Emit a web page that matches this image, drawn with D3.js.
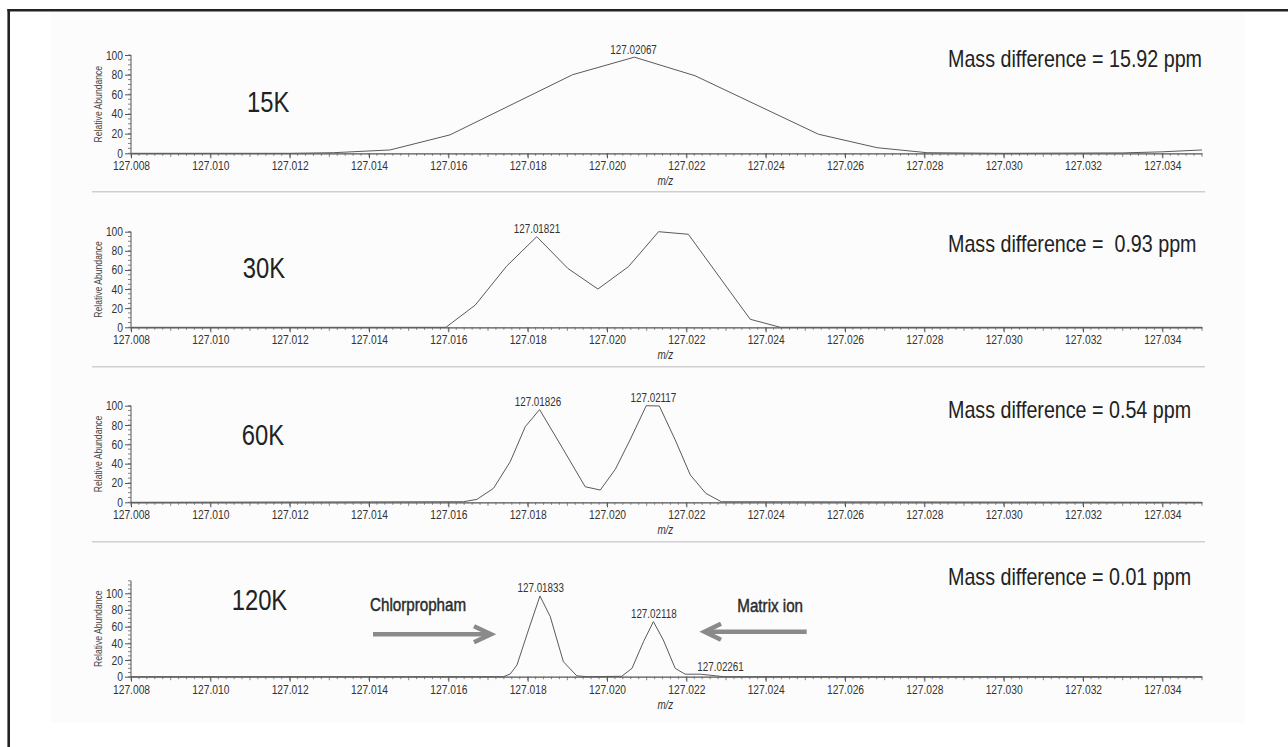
<!DOCTYPE html>
<html>
<head>
<meta charset="utf-8">
<script src="https://cdn.jsdelivr.net/npm/d3@7"></script>
<style>
  html, body { margin: 0; padding: 0; background: #ffffff; }
  svg { display: block; }
  text { font-family: "Liberation Sans", Arial, sans-serif; }
</style>
</head>
<body>
<svg id="chart" width="1288" height="747"></svg>
<script>
// ---------------- DATA ----------------
const xTicks = [127.008, 127.010, 127.012, 127.014, 127.016, 127.018, 127.020,
                127.022, 127.024, 127.026, 127.028, 127.030, 127.032, 127.034];
const yTicks = [0, 20, 40, 60, 80, 100];
const resolutions = ["15K", "30K", "60K", "120K"];
const massDifferences = [
  "Mass difference = 15.92 ppm",
  "Mass difference =  0.93 ppm",
  "Mass difference = 0.54 ppm",
  "Mass difference = 0.01 ppm"
];

// 15K profile
const mz15K = [127.0080, 127.0120, 127.0131, 127.01453, 127.01604, 127.01913, 127.02069,
               127.02222, 127.02533, 127.02681, 127.02807, 127.0300, 127.0330, 127.0340, 127.0350];
const ab15K = [0, 0, 0.6, 3.4, 18.7, 79.9, 97.8, 78.9, 19.4, 5.7, 0.6, 0, 0.4, 1.5, 3.4];
const peaks15K = ["127.02067"];

// 30K profile
const mz30K = [127.0080, 127.01594, 127.01668, 127.01747, 127.01823, 127.01901, 127.01977,
               127.02054, 127.02130, 127.02205, 127.02361, 127.02437, 127.0350];
const ab30K = [0, 0, 23.3, 64, 94.8, 61.7, 40, 63.4, 100, 97.3, 8.4, 0, 0];
const peaks30K = ["127.01821", "127.02164"];

// 60K profile
const mz60K = [127.0080, 127.01638, 127.01672, 127.01714, 127.01756, 127.01794, 127.01830,
               127.01888, 127.01945, 127.01983, 127.02021, 127.02058, 127.02099, 127.02132,
               127.02172, 127.02210, 127.02249, 127.02288, 127.0350];
const ab60K = [0, 0.6, 3, 14.5, 42, 78.3, 96, 56, 16.1, 12.7, 34.2, 64.5, 100, 99.7,
               64.5, 28.3, 9.3, 0.6, 0];
const peaks60K = ["127.01826", "127.02117"];

// 120K profile
const mz120K = [127.0080, 127.01739, 127.01756, 127.01773, 127.01802, 127.01831, 127.01857,
                127.01890, 127.01924, 127.01950, 127.02037, 127.02063, 127.02092, 127.02117,
                127.02142, 127.02172, 127.02197, 127.02235, 127.02262, 127.02294, 127.0350];
const ab120K = [0, 0, 3.2, 14, 56, 96.8, 72, 18, 1, 0, 0.5, 10, 42, 66, 44, 10, 3, 3, 1.7, 0, 0];
const peaks120K = ["127.01833", "127.02118", "127.02261"];

const annotations = ["Chlorpropham", "Matrix ion"];

// ---------------- LAYOUT ----------------
const svg = d3.select("#chart");
const panels = [
  { mz: mz15K,  ab: ab15K,  peaks: peaks15K,  y0: 153.3, y100: 55.0,  yMax: 100, label: [247, 111.7], md: 66.7,  nudge: [0] },
  { mz: mz30K,  ab: ab30K,  peaks: peaks30K,  y0: 327.3, y100: 231.7, yMax: 100, label: [242.7, 278.3], md: 251.5, nudge: [1, 1] },
  { mz: mz60K,  ab: ab60K,  peaks: peaks60K,  y0: 502.3, y100: 405.7, yMax: 100, label: [241.7, 445], md: 418, nudge: [0, 0] },
  { mz: mz120K, ab: ab120K, peaks: peaks120K, y0: 676.7, y100: 593.3, yMax: 115, label: [231.7, 610], md: 585, nudge: [0, 0, 10] }
];

// faint background panel and frame
svg.append("rect").attr("x", 50).attr("y", 12).attr("width", 1195).attr("height", 711)
  .attr("fill", "#fcfcfc");
svg.append("line").attr("x1", 8.7).attr("x2", 8.7).attr("y1", 9).attr("y2", 747)
  .attr("stroke", "#222").attr("stroke-width", 2.6);
svg.append("line").attr("x1", 7.4).attr("x2", 1288).attr("y1", 10.3).attr("y2", 10.3)
  .attr("stroke", "#222").attr("stroke-width", 2.6);

// separators
[191.8, 366.7, 541.7].forEach(y => {
  svg.append("line").attr("x1", 92).attr("x2", 1205).attr("y1", y).attr("y2", y)
    .attr("stroke", "#cfcfcf").attr("stroke-width", 1.6);
});

const x = d3.scaleLinear().domain([127.008, 127.035]).range([131, 1202]);
const minorX = d3.range(0, 136).map(i => 127.008 + i * 0.0002);

panels.forEach((p, idx) => {
  const y = d3.scaleLinear().domain([0, 100]).range([p.y0, p.y100]);
  const g = svg.append("g");

  // x axis
  const xa = g.append("g").attr("transform", `translate(0,${p.y0})`)
    .call(d3.axisBottom(x).tickValues(xTicks).tickFormat(d3.format(".3f"))
      .tickSize(5).tickSizeOuter(0).tickPadding(3));
  xa.attr("font-family", null).attr("font-size", null);
  xa.select(".domain").attr("stroke", "#555").attr("stroke-width", 1.2);
  xa.selectAll(".tick line").attr("stroke", "#555");
  xa.selectAll(".tick text").attr("fill", "#333").style("font-size", "12.5px");
  g.selectAll(null).data(minorX).enter().append("line")
    .attr("x1", d => x(d)).attr("x2", d => x(d))
    .attr("y1", p.y0).attr("y2", (d, i) => p.y0 + (i % 5 === 0 ? 3.5 : 2.5))
    .attr("stroke", "#666").attr("stroke-width", 0.8);
  g.append("text").attr("x", x(127.02147)).attr("y", p.y0 + 32)
    .attr("text-anchor", "middle").attr("font-style", "italic")
    .attr("fill", "#333").style("font-size", "12px").text("m/z");

  // y axis
  const yTop = y(p.yMax);
  const ya = g.append("g").attr("transform", `translate(131,0)`)
    .call(d3.axisLeft(y).tickValues(yTicks).tickSize(6).tickSizeOuter(0).tickPadding(2));
  ya.attr("font-family", null).attr("font-size", null);
  ya.select(".domain").attr("d", `M0,${p.y0}V${yTop}`).attr("stroke", "#555");
  ya.selectAll(".tick line").attr("stroke", "#555");
  ya.selectAll(".tick text").attr("fill", "#333").style("font-size", "12.5px");
  const minorY = d3.range(0, p.yMax + 0.1, 5);
  g.selectAll(null).data(minorY).enter().append("line")
    .attr("x1", 131).attr("x2", 128).attr("y1", d => y(d)).attr("y2", d => y(d))
    .attr("stroke", "#666").attr("stroke-width", 0.8);
  g.append("text")
    .attr("transform", `translate(102,${(p.y0 + yTop) / 2}) rotate(-90)`)
    .attr("text-anchor", "middle").attr("fill", "#444")
    .style("font-size", "10.5px").text("Relative Abundance");

  // profile line
  const pts = p.mz.map((m, i) => [m, p.ab[i]]);
  g.append("path").datum(pts)
    .attr("fill", "none").attr("stroke", "#5a5a5a").attr("stroke-width", 1)
    .attr("d", d3.line().x(d => x(d[0])).y(d => y(d[1])));

  // peak labels
  p.peaks.forEach((lab, k) => {
    const m = +lab;
    const near = pts.filter(d => Math.abs(d[0] - m) < 0.0003);
    const top = d3.max(near, d => d[1]);
    g.append("text").attr("x", x(m) + (p.nudge[k] || 0)).attr("y", y(top) - 3.5)
      .attr("text-anchor", "middle").attr("fill", "#333")
      .style("font-size", "12px").text(lab);
  });

  // resolution label
  g.append("text").attr("x", p.label[0]).attr("y", p.label[1])
    .attr("fill", "#222").style("font-size", "29px").text(resolutions[idx]);

  // mass difference
  g.append("text").attr("x", 948).attr("y", p.md)
    .style("white-space", "pre")
    .attr("fill", "#222").style("font-size", "24px").text(massDifferences[idx]);
});

// annotations (120K panel)
svg.append("text").attr("x", 370).attr("y", 610.7).attr("fill", "#2a2a2a")
  .attr("stroke", "#2a2a2a").attr("stroke-width", 0.45)
  .style("font-size", "18.5px").text(annotations[0]);
svg.append("text").attr("x", 737.3).attr("y", 611.7).attr("fill", "#2a2a2a")
  .attr("stroke", "#2a2a2a").attr("stroke-width", 0.45)
  .style("font-size", "18.5px").text(annotations[1]);

const arrowColor = "#8a8a8a";
// right-pointing arrow
svg.append("line").attr("x1", 373).attr("x2", 490).attr("y1", 634.3).attr("y2", 634.3)
  .attr("stroke", arrowColor).attr("stroke-width", 4.5);
svg.append("path").attr("d", "M474,626.3 L491,634.3 L474,642.3")
  .attr("fill", "none").attr("stroke", arrowColor).attr("stroke-width", 4.5)
  .attr("stroke-linejoin", "miter");
// left-pointing arrow
svg.append("line").attr("x1", 706).attr("x2", 806.7).attr("y1", 631.7).attr("y2", 631.7)
  .attr("stroke", arrowColor).attr("stroke-width", 4.5);
svg.append("path").attr("d", "M721,623.7 L704.5,631.7 L721,639.7")
  .attr("fill", "none").attr("stroke", arrowColor).attr("stroke-width", 4.5)
  .attr("stroke-linejoin", "miter");

// emulate a condensed face: squeeze every text horizontally
svg.selectAll("text").each(function () {
  const w = this.getComputedTextLength();
  if (w > 0) {
    d3.select(this).attr("textLength", w * 0.82).attr("lengthAdjust", "spacingAndGlyphs");
  }
});
</script>
</body>
</html>
